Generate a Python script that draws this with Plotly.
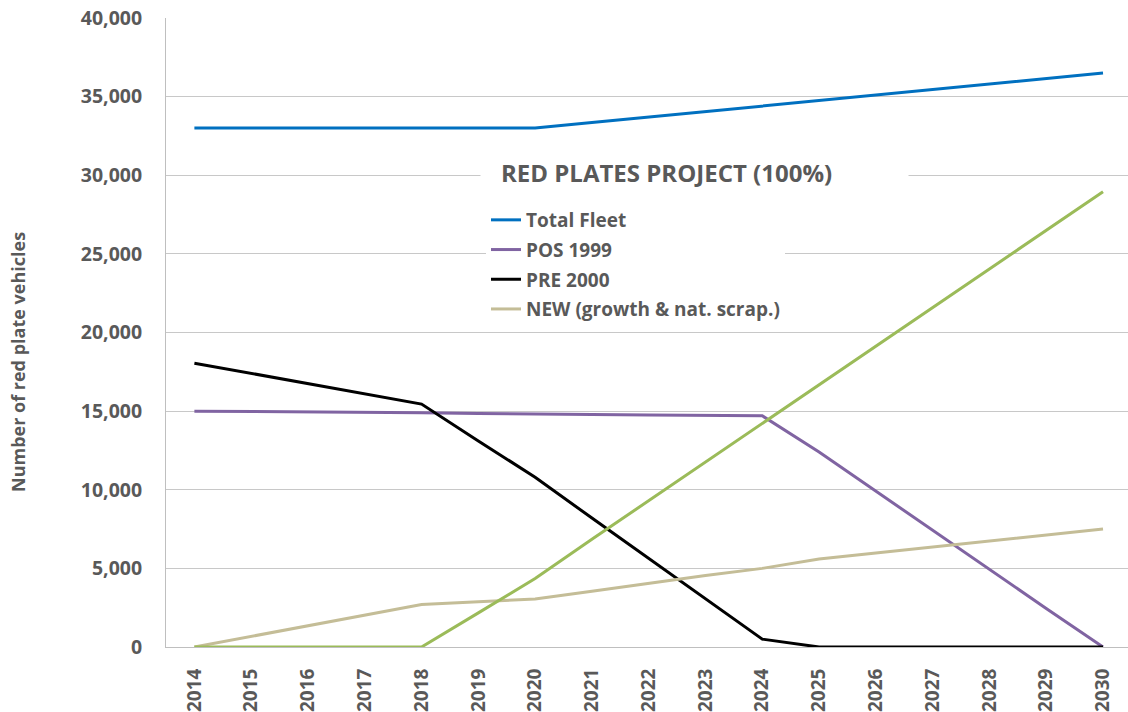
import plotly.graph_objects as go

years = list(range(2014, 2031))

total_fleet = [33000, 33000, 33000, 33000, 33000, 33000, 33000,
               33350, 33700, 34050, 34400, 34750, 35100, 35450, 35800, 36150, 36500]
pos_1999 = [15000, 14980, 14950, 14920, 14900, 14850, 14800,
            14780, 14750, 14720, 14700, 12400, 9900, 7400, 4950, 2450, 0]
pre_2000 = [18050, 17400, 16750, 16100, 15450, 13100, 10800,
            8200, 5650, 3050, 500, 0, 0, 0, 0, 0, 0]
new_growth = [0, 680, 1350, 2030, 2700, 2880, 3050,
              3550, 4050, 4550, 5000, 5600, 5980, 6360, 6740, 7120, 7500]
red_plates = [0, 0, 0, 0, 0, 2170, 4350,
              6850, 9300, 11750, 14250, 16700, 19150, 21600, 24050, 26500, 28950]

series = [
    ("Total Fleet", total_fleet, "#0070C0", True),
    ("POS 1999", pos_1999, "#8064A2", True),
    ("PRE 2000", pre_2000, "#000000", True),
    ("NEW (growth &amp; nat. scrap.)", new_growth, "#C4BD97", True),
    ("Red plates", red_plates, "#9BBB59", False),
]

FONT = "Open Sans"
GREY = "#595959"

fig = go.Figure()
for i, (name, vals, color, show) in enumerate(series):
    fig.add_trace(go.Scatter(
        x=years, y=vals, mode="lines", name=name,
        line=dict(color=color, width=3),
        showlegend=show, legendgroup=f"g{i}",
    ))

W, H = 1128, 712
L, R, T, B = 166, 0, 18, 65
pw = W - L - R

def px_x(p):
    return (p - L) / pw

def px_y(p):
    return 1 - (p - T) / (H - T - B)

fig.update_layout(
    width=W, height=H,
    margin=dict(l=L, r=R, t=T, b=B),
    paper_bgcolor="white", plot_bgcolor="white",
    font=dict(family=FONT, color=GREY),
    showlegend=True,
    legend=dict(
        x=px_x(486), y=px_y(201), xanchor="left", yanchor="top",
        bgcolor="white", borderwidth=0,
        font=dict(family=FONT, size=19, color=GREY, weight="bold"),
        tracegroupgap=2, itemwidth=30,
    ),
    xaxis=dict(
        range=[2013.5, 2030.44], dtick=1, tick0=2014,
        showgrid=False, zeroline=False,
        showline=True, linecolor="#BFBFBF", linewidth=1,
        tickangle=-90, ticks="outside", ticklen=13, tickcolor="rgba(0,0,0,0)",
        tickfont=dict(family=FONT, size=19, color=GREY, weight="bold"),
    ),
    yaxis=dict(
        range=[0, 40000], dtick=5000, tickformat=",",
        showgrid=True, gridcolor="#C8C8C8", gridwidth=1,
        zeroline=False,
        showline=True, linecolor="#BFBFBF", linewidth=1,
        ticks="outside", ticklen=19, tickcolor="rgba(0,0,0,0)",
        tickfont=dict(family=FONT, size=19.5, color=GREY, weight="bold"),
    ),
    annotations=[
        # white band behind the legend heading
        dict(
            text=" ",
            xref="paper", yref="paper", x=px_x(694), y=px_y(173),
            xanchor="center", yanchor="middle", showarrow=False,
            width=425, height=40, bgcolor="white",
        ),
        dict(
            text="RED PLATES PROJECT (100%)",
            xref="paper", yref="paper", x=px_x(666), y=px_y(173),
            xanchor="center", yanchor="middle", showarrow=False,
            font=dict(family=FONT, size=24, color=GREY, weight="bold"),
        ),
        dict(
            text="Number of red plate vehicles",
            xref="paper", yref="paper", x=px_x(18), y=px_y(362),
            xanchor="center", yanchor="middle", showarrow=False,
            textangle=-90,
            font=dict(family=FONT, size=18, color=GREY, weight="bold"),
        ),
    ],
)

fig.write_html("out.html")
